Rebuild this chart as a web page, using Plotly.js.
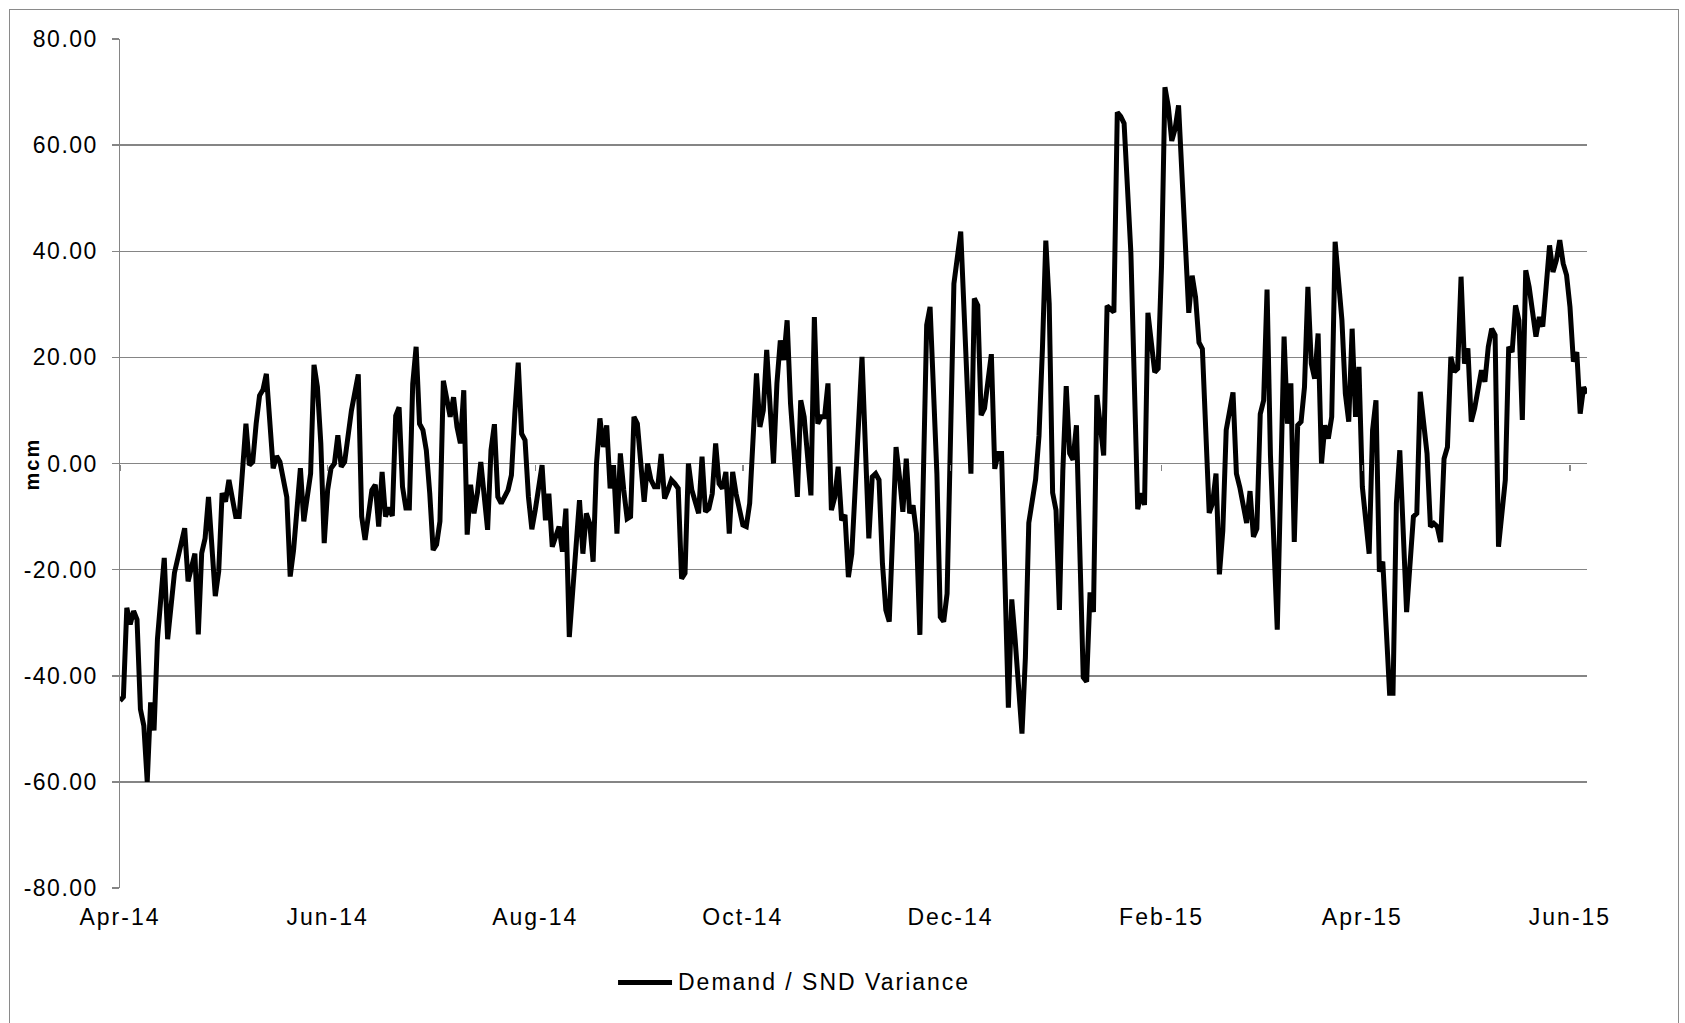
<!DOCTYPE html>
<html>
<head>
<meta charset="utf-8">
<script src="https://cdn.plot.ly/plotly-3.0.1.min.js"></script>
<style>
  html, body { margin: 0; padding: 0; background: #ffffff; overflow: hidden; }
  #chart { width: 1685px; height: 1023px; }
  #frame { position: absolute; left: 9px; top: 9px; width: 1670px; height: 1060px;
           border: 1.6px solid #8a8a8a; box-sizing: border-box; pointer-events: none; }
  .xtick text { letter-spacing: 2px; }
  .ytick text { letter-spacing: 1.5px; }
  .annotation-text { letter-spacing: 2px; }
</style>
</head>
<body>
<div id="chart"></div>
<div id="frame"></div>
<script>
// ---- data ----
const seriesName = 'Demand / SND Variance';
const yTitle = 'mcm';

const dates = [
'2014-04-01','2014-04-02','2014-04-03','2014-04-04','2014-04-05','2014-04-06','2014-04-07','2014-04-08','2014-04-09','2014-04-10',
'2014-04-11','2014-04-12','2014-04-14','2014-04-15','2014-04-17','2014-04-18','2014-04-20','2014-04-21','2014-04-23','2014-04-24',
'2014-04-25','2014-04-26','2014-04-27','2014-04-29','2014-04-30','2014-05-01','2014-05-02','2014-05-03','2014-05-05','2014-05-06',
'2014-05-08','2014-05-09','2014-05-10','2014-05-11','2014-05-12','2014-05-13','2014-05-14','2014-05-16','2014-05-17','2014-05-18',
'2014-05-20','2014-05-21','2014-05-22','2014-05-24','2014-05-25','2014-05-27','2014-05-28','2014-05-29','2014-05-30','2014-05-31',
'2014-06-01','2014-06-02','2014-06-03','2014-06-04','2014-06-05','2014-06-06','2014-06-08','2014-06-10','2014-06-11','2014-06-12',
'2014-06-13','2014-06-14','2014-06-15','2014-06-16','2014-06-17','2014-06-18','2014-06-19','2014-06-20','2014-06-21','2014-06-22',
'2014-06-23','2014-06-24','2014-06-25','2014-06-26','2014-06-27','2014-06-28','2014-06-29','2014-06-30','2014-07-01','2014-07-02',
'2014-07-03','2014-07-04','2014-07-05','2014-07-07','2014-07-08','2014-07-09','2014-07-10','2014-07-11','2014-07-12','2014-07-13',
'2014-07-14','2014-07-15','2014-07-16','2014-07-17','2014-07-18','2014-07-19','2014-07-20','2014-07-21','2014-07-22','2014-07-24',
'2014-07-25','2014-07-26','2014-07-27','2014-07-28','2014-07-29','2014-07-30','2014-07-31','2014-08-01','2014-08-03','2014-08-04',
'2014-08-05','2014-08-06','2014-08-07','2014-08-08','2014-08-09','2014-08-10','2014-08-11','2014-08-13','2014-08-14','2014-08-15',
'2014-08-16','2014-08-17','2014-08-18','2014-08-19','2014-08-20','2014-08-21','2014-08-22','2014-08-23','2014-08-24','2014-08-25',
'2014-08-26','2014-08-27','2014-08-28','2014-08-29','2014-08-30','2014-08-31','2014-09-01','2014-09-02','2014-09-03','2014-09-04',
'2014-09-05','2014-09-06','2014-09-07','2014-09-08','2014-09-09','2014-09-10','2014-09-11','2014-09-12','2014-09-13','2014-09-14',
'2014-09-15','2014-09-16','2014-09-18','2014-09-19','2014-09-20','2014-09-21','2014-09-22','2014-09-23','2014-09-24','2014-09-25',
'2014-09-26','2014-09-27','2014-09-28','2014-09-29','2014-10-01','2014-10-02','2014-10-03','2014-10-05','2014-10-06','2014-10-07',
'2014-10-08','2014-10-09','2014-10-10','2014-10-11','2014-10-12','2014-10-13','2014-10-14','2014-10-15','2014-10-16','2014-10-17',
'2014-10-18','2014-10-19','2014-10-21','2014-10-22','2014-10-23','2014-10-24','2014-10-25','2014-10-26','2014-10-27','2014-10-28',
'2014-10-29','2014-10-30','2014-10-31','2014-11-01','2014-11-02','2014-11-03','2014-11-04','2014-11-05','2014-11-07','2014-11-08',
'2014-11-09','2014-11-10','2014-11-11','2014-11-12','2014-11-13','2014-11-14','2014-11-15','2014-11-16','2014-11-17','2014-11-18',
'2014-11-19','2014-11-20','2014-11-21','2014-11-22','2014-11-24','2014-11-25','2014-11-26','2014-11-27','2014-11-28','2014-11-29',
'2014-11-30','2014-12-01','2014-12-02','2014-12-04','2014-12-05','2014-12-07','2014-12-08','2014-12-09','2014-12-10','2014-12-11',
'2014-12-13','2014-12-14','2014-12-15','2014-12-16','2014-12-18','2014-12-19','2014-12-20','2014-12-22','2014-12-23','2014-12-24',
'2014-12-26','2014-12-27','2014-12-28','2014-12-29','2014-12-30','2014-12-31','2015-01-01','2015-01-02','2015-01-03','2015-01-04',
'2015-01-05','2015-01-06','2015-01-07','2015-01-08','2015-01-09','2015-01-10','2015-01-11','2015-01-12','2015-01-13','2015-01-15',
'2015-01-16','2015-01-18','2015-01-19','2015-01-20','2015-01-21','2015-01-23','2015-01-25','2015-01-26','2015-01-27','2015-01-28',
'2015-01-30','2015-01-31','2015-02-01','2015-02-02','2015-02-03','2015-02-04','2015-02-05','2015-02-06','2015-02-09','2015-02-10',
'2015-02-11','2015-02-12','2015-02-13','2015-02-15','2015-02-16','2015-02-17','2015-02-18','2015-02-19','2015-02-20','2015-02-22',
'2015-02-23','2015-02-24','2015-02-25','2015-02-26','2015-02-27','2015-02-28','2015-03-01','2015-03-02','2015-03-03','2015-03-04',
'2015-03-05','2015-03-06','2015-03-07','2015-03-09','2015-03-10','2015-03-11','2015-03-12','2015-03-13','2015-03-14','2015-03-15',
'2015-03-16','2015-03-17','2015-03-18','2015-03-19','2015-03-20','2015-03-21','2015-03-22','2015-03-23','2015-03-24','2015-03-26',
'2015-03-27','2015-03-28','2015-03-29','2015-03-30','2015-03-31','2015-04-01','2015-04-03','2015-04-04','2015-04-05','2015-04-06',
'2015-04-07','2015-04-09','2015-04-10','2015-04-11','2015-04-12','2015-04-14','2015-04-16','2015-04-17','2015-04-18','2015-04-20',
'2015-04-21','2015-04-22','2015-04-23','2015-04-24','2015-04-25','2015-04-26','2015-04-27','2015-04-28','2015-04-29','2015-04-30',
'2015-05-01','2015-05-02','2015-05-03','2015-05-04','2015-05-06','2015-05-07','2015-05-08','2015-05-09','2015-05-10','2015-05-11',
'2015-05-12','2015-05-13','2015-05-14','2015-05-15','2015-05-16','2015-05-17','2015-05-18','2015-05-19','2015-05-20','2015-05-22',
'2015-05-23','2015-05-24','2015-05-25','2015-05-26','2015-05-27','2015-05-28','2015-05-29','2015-05-30','2015-05-31','2015-06-01',
'2015-06-02','2015-06-03','2015-06-04','2015-06-05','2015-06-06'
];

const variance = [
-44.7,-44.0,-27.2,-30.3,-27.8,-29.4,-46.3,-49.4,-60.0,-45.0,
-50.3,-33.1,-17.8,-33.1,-20.6,-17.5,-12.2,-22.2,-17.0,-32.2,
-16.9,-14.1,-6.3,-25.0,-20.3,-5.6,-7.2,-3.1,-10.0,-10.0,
7.5,-0.3,0.3,7.5,12.8,13.9,16.9,-0.9,1.4,0.3,
-6.3,-21.3,-16.3,-0.9,-10.9,-1.9,18.6,14.4,3.8,-15.0,
-5.0,-0.9,0.0,5.3,-0.6,0.3,10.0,16.8,-10.0,-14.4,
-9.4,-5.0,-4.0,-11.9,-1.6,-10.0,-8.3,-9.9,9.0,10.6,
-4.4,-8.4,-8.4,15.0,22.0,7.5,6.3,2.5,-5.6,-16.3,
-15.3,-10.9,15.6,8.8,12.5,6.9,3.8,13.8,-13.4,-4.0,
-9.4,-5.6,0.3,-5.6,-12.5,2.5,7.4,-6.3,-7.5,-5.0,
-2.2,9.4,19.0,5.6,4.4,-6.3,-12.4,-8.8,-0.3,-10.7,
-5.7,-15.7,-13.8,-11.9,-16.6,-8.5,-32.7,-16.3,-6.9,-17.0,
-9.4,-11.3,-18.5,0.0,8.5,3.1,7.2,-4.7,-0.3,-13.2,
1.9,-5.0,-10.4,-10.0,8.8,7.5,0.0,-7.2,0.0,-3.1,
-4.4,-4.4,1.8,-6.6,-5.0,-3.1,-3.8,-4.7,-21.7,-20.7,
0.0,-5.0,-9.4,1.3,-9.1,-8.5,-5.7,3.8,-3.8,-4.7,
-1.6,-13.2,-1.6,-5.7,-11.6,-11.9,-7.5,17.0,6.9,10.0,
21.4,8.8,0.0,15.1,23.2,19.5,27.0,11.3,1.3,-6.3,
11.9,8.8,-6.0,27.6,7.5,8.8,8.8,15.1,-8.8,-6.3,
-0.6,-10.7,-9.7,-21.4,-17.0,-3.1,8.8,20.1,-14.1,-2.5,
-1.9,-3.1,-18.8,-27.6,-29.8,-13.2,3.1,-2.5,-9.1,0.9,
-9.4,-7.9,-13.2,-32.3,26.1,29.5,11.9,-1.9,-28.9,-29.8,
-24.5,5.7,33.9,43.7,26.4,-1.9,31.1,29.8,9.1,10.4,
20.6,-1.0,1.9,1.9,-46.0,-25.6,-33.3,-50.9,-36.6,-11.2,
-3.0,5.2,21.5,42.0,30.1,-5.5,-8.8,-27.6,-1.4,14.6,
1.9,0.7,7.2,-13.7,-40.3,-41.1,-24.3,-28.0,12.9,1.5,
29.7,28.5,66.2,65.4,64.1,39.6,-8.6,-5.6,-7.8,28.4,
17.2,17.9,37.3,70.9,67.2,60.8,63.1,67.5,28.4,35.4,
31.3,22.8,21.6,-9.3,-7.5,-1.9,-20.9,-12.7,6.3,13.4,
-1.9,-4.5,-7.5,-11.2,-5.2,-13.8,-12.3,9.3,11.9,32.8,
1.5,-17.2,-31.3,23.9,7.5,15.1,-14.8,7.2,7.9,14.4,
33.3,18.8,16.0,24.5,0.0,7.2,4.7,8.8,41.8,27.0,
13.2,7.9,25.4,8.8,18.2,-4.4,-17.0,6.3,11.9,-20.4,
-18.5,-43.3,-43.3,-7.5,2.5,-28.0,-10.0,-9.4,13.5,1.9,
-11.9,-11.3,-11.9,-14.8,0.9,3.1,20.1,17.3,17.9,35.2,
18.8,21.7,7.9,10.4,17.6,15.4,22.0,25.4,24.2,-15.7,
-9.4,-3.1,22.0,21.0,29.8,27.0,8.2,36.4,33.3,23.9,
27.6,25.8,33.3,41.1,36.1,38.3,42.1,37.7,35.5,29.5,
19.2,21.0,9.4,14.4,13.2
];

const xTickVals = ['2014-04-01','2014-06-01','2014-08-01','2014-10-01','2014-12-01','2015-02-01','2015-04-01','2015-06-01'];
const xTickText = ['Apr-14','Jun-14','Aug-14','Oct-14','Dec-14','Feb-15','Apr-15','Jun-15'];
const yTickVals = [-80,-60,-40,-20,0,20,40,60,80];
const yTickText = ['-80.00','-60.00','-40.00','-20.00','0.00','20.00','40.00','60.00','80.00'];

// ---- styling ----
const GRID = '#858585';
const FONT = '"Liberation Sans", Arial, sans-serif';
const xRange = [dates[0], dates[dates.length - 1]];

const traces = [
  {
    type: 'scatter', mode: 'lines', name: seriesName,
    x: dates, y: variance, xaxis: 'x', yaxis: 'y',
    line: { color: '#000000', width: 5 },
    hoverinfo: 'x+y'
  },
  {
    // carries the axis that sits on the zero line (tick marks only)
    type: 'scatter', mode: 'lines', name: seriesName + ' (axis)',
    x: dates, y: variance, xaxis: 'x2', yaxis: 'y',
    line: { color: 'rgba(0,0,0,0)', width: 0 },
    hoverinfo: 'skip', showlegend: false
  }
];

const layout = {
  width: 1685, height: 1023,
  margin: { l: 120, r: 98, t: 39, b: 135, pad: 0 },
  paper_bgcolor: '#ffffff', plot_bgcolor: '#ffffff',
  showlegend: false,
  font: { family: FONT, size: 23, color: '#000000' },
  xaxis: {
    type: 'date', range: xRange, tickvals: xTickVals, ticktext: xTickText,
    showgrid: false, showline: false, zeroline: false, ticks: '',
    ticklabelstandoff: 13, automargin: false,
    tickfont: { family: FONT, size: 23, color: '#000000' }
  },
  xaxis2: {
    type: 'date', range: xRange, overlaying: 'x', anchor: 'free', position: 0.5,
    tickvals: xTickVals, showticklabels: false,
    ticks: 'outside', ticklen: 6, tickwidth: 1.5, tickcolor: GRID,
    showgrid: false, showline: false, zeroline: false, automargin: false
  },
  yaxis: {
    range: [-80, 80], tickvals: yTickVals, ticktext: yTickText,
    showgrid: true, gridcolor: GRID, gridwidth: 1.5,
    showline: true, linecolor: GRID, linewidth: 1.5,
    ticks: 'outside', ticklen: 7, tickwidth: 1.5, tickcolor: GRID,
    zeroline: false, ticklabelstandoff: 9, automargin: false,
    tickfont: { family: FONT, size: 23, color: '#000000' }
  },
  shapes: [
    { type: 'line', xref: 'paper', yref: 'paper', x0: 0.3395, x1: 0.3763, y0: -0.1113, y1: -0.1113,
      line: { color: '#000000', width: 5 } }
  ],
  annotations: [
    { text: '<b>' + yTitle + '</b>', xref: 'paper', yref: 'paper', x: -0.060, y: 0.5,
      xanchor: 'center', yanchor: 'middle', textangle: -90, showarrow: false,
      font: { family: FONT, size: 20, color: '#000000' } },
    { text: seriesName, xref: 'paper', yref: 'paper', x: 0.3790, y: -0.1113,
      xanchor: 'left', yanchor: 'middle', showarrow: false,
      font: { family: FONT, size: 23, color: '#000000' } }
  ]
};

Plotly.newPlot('chart', traces, layout, { displayModeBar: false, staticPlot: true });
</script>
</body>
</html>
